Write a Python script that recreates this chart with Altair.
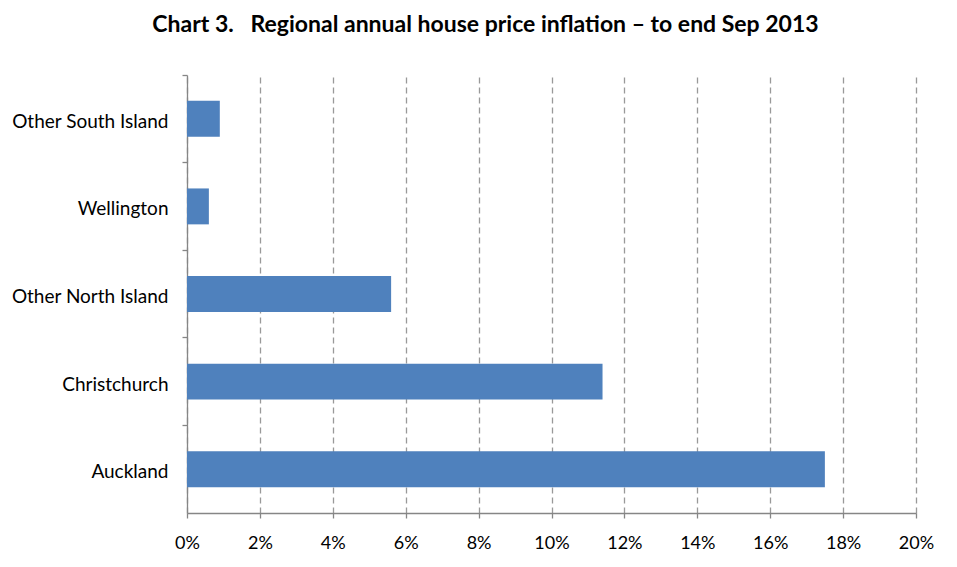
import altair as alt
import pandas as pd

regions = ["Other South Island", "Wellington", "Other North Island", "Christchurch", "Auckland"]
inflation = [0.9, 0.6, 5.6, 11.4, 17.5]
x_ticks = [0, 2, 4, 6, 8, 10, 12, 14, 16, 18, 20]

df = pd.DataFrame({"region": regions, "value": inflation})

FONT = "Lato"
AXIS_GRAY = "#868686"

chart = alt.Chart(df).mark_bar(
    color="#4F81BD", height=alt.RelativeBandSize(band=0.41)
).encode(
    x=alt.X(
        "value:Q",
        scale=alt.Scale(domain=[0, 20], nice=False),
        axis=alt.Axis(
            values=x_ticks,
            labelExpr="datum.value + '%'",
            title=None,
            grid=True,
            gridDash=[6, 4],
            gridColor="#999999",
            gridWidth=1.3,
            domainColor=AXIS_GRAY,
            domainWidth=1.3,
            tickColor=AXIS_GRAY,
            tickWidth=1.3,
            tickSize=5,
            labelPadding=16,
            labelFlush=False,
            labelFontSize=18,
            labelFont=FONT,
            labelColor="#000000",
        ),
    ),
    y=alt.Y(
        "region:N",
        sort=regions,
        scale=alt.Scale(paddingInner=0, paddingOuter=0),
        axis=alt.Axis(
            title=None,
            bandPosition=0,
            labelOffset=3,
            domainColor=AXIS_GRAY,
            domainWidth=1.3,
            tickColor=AXIS_GRAY,
            tickWidth=1.3,
            tickSize=5,
            labelPadding=14,
            labelFontSize=19,
            labelFont=FONT,
            labelColor="#000000",
        ),
    ),
).properties(
    width=729,
    height=438,
    title=alt.TitleParams(
        "Chart 3.\u00a0\u00a0\u00a0Regional annual house price inflation \u2013 to end Sep 2013",
        font=FONT,
        fontSize=23,
        fontWeight="bold",
        color="#000000",
        anchor="middle",
        dx=-66,
        offset=37,
    ),
    autosize=alt.AutoSizeParams(type="none"),
    padding={"left": 179, "top": 67, "right": 33, "bottom": 46},
).configure_view(stroke=None)

chart.save("out.html", embed_options={"renderer": "svg", "actions": False})
